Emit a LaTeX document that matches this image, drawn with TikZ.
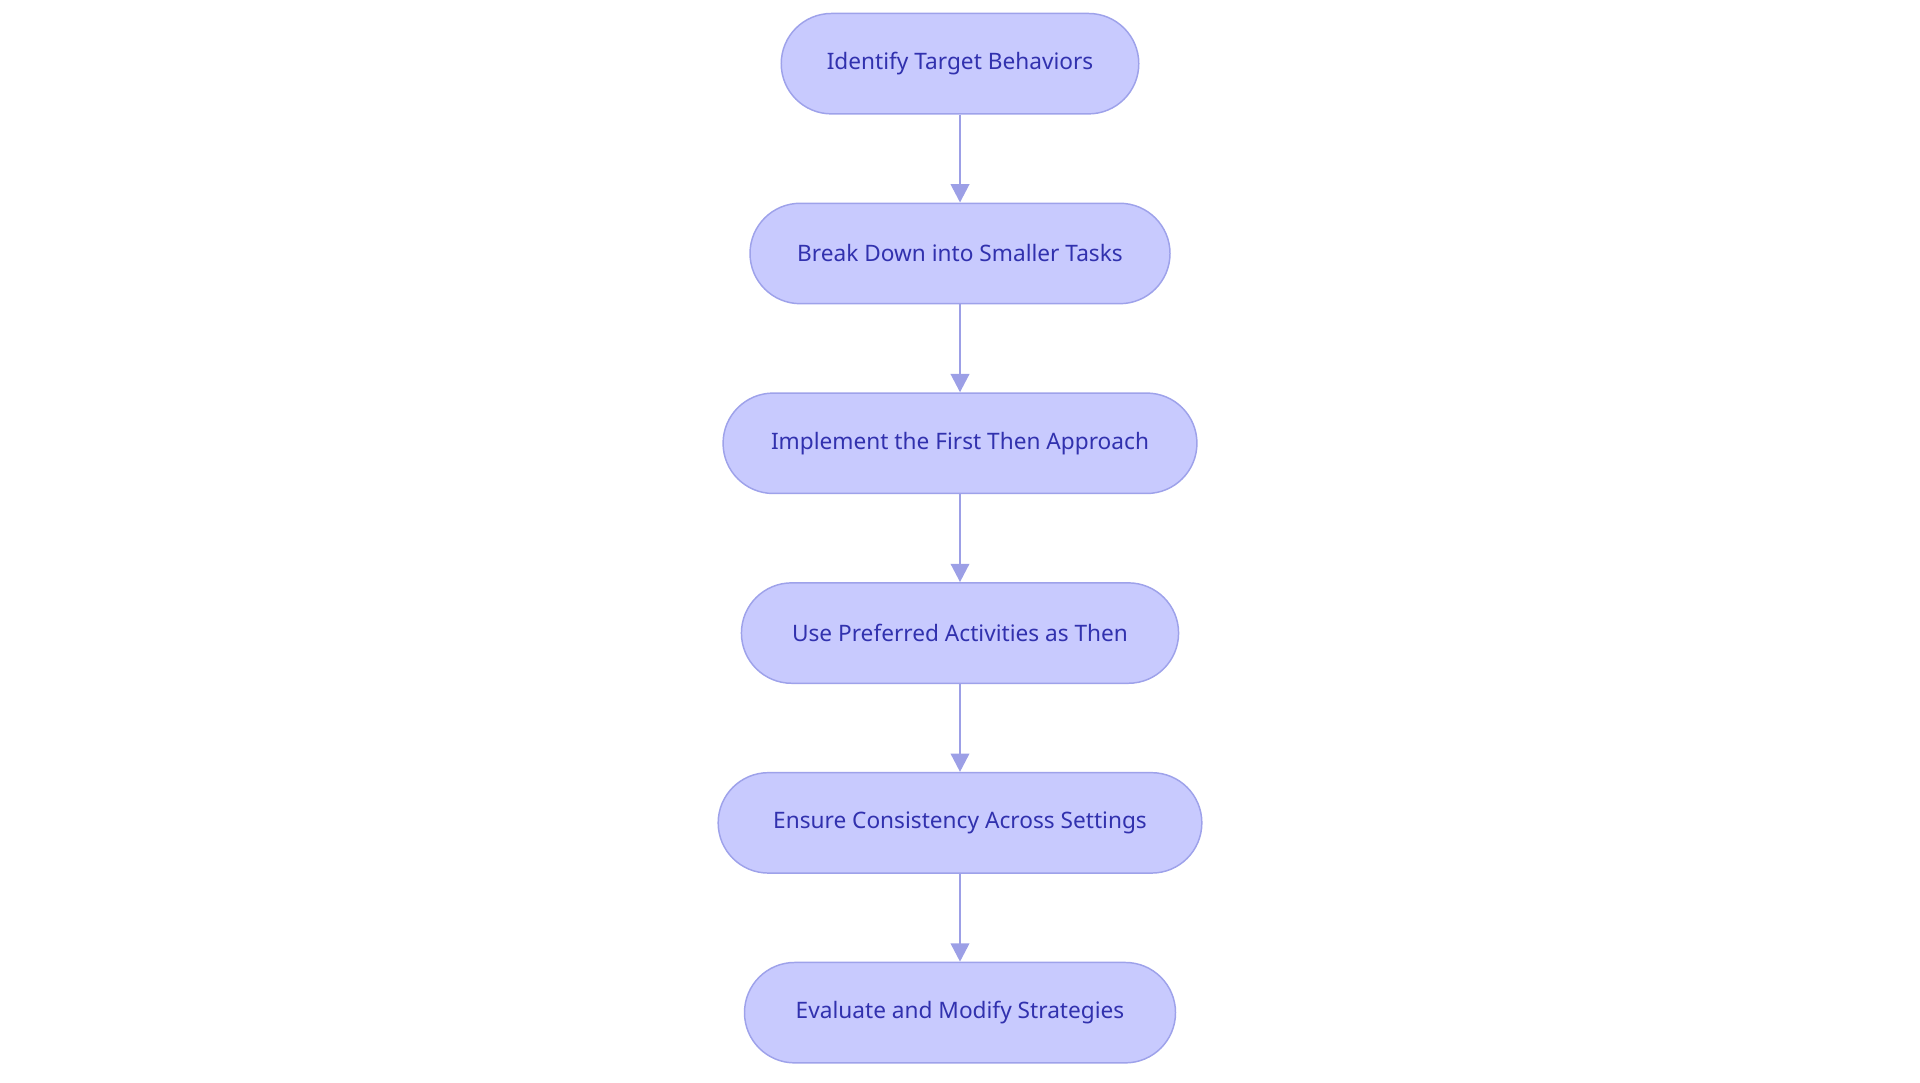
\documentclass[tikz,border=0pt]{standalone}
\usepackage{fontspec}
\setmainfont{Noto Sans}
\usetikzlibrary{arrows.meta}
\definecolor{nfill}{HTML}{C8CAFE}
\definecolor{ndraw}{HTML}{9EA2EA}
\definecolor{ntext}{HTML}{3131AE}
\definecolor{arr}{HTML}{9C9FE6}
\begin{document}
\begin{tikzpicture}[x=1pt,y=-1pt,
  box/.style={draw=ndraw,fill=nfill,line width=1.2pt,rounded corners=41pt,minimum height=82pt,text=ntext,font=\fontsize{18.5}{22}\selectfont,inner sep=0pt},
  link/.style={draw=arr,line width=2.2pt,-{Triangle[length=15pt,width=15pt]}}]
\useasboundingbox (0,0) rectangle (1568,884);
\node[box,minimum width=292pt] (a) at (784,52) {Identify Target Behaviors};
\node[box,minimum width=343pt] (b) at (784,207) {Break Down into Smaller Tasks};
\node[box,minimum width=387pt] (c) at (784,362) {Implement the First Then Approach};
\node[box,minimum width=357pt] (d) at (784,517) {Use Preferred Activities as Then};
\node[box,minimum width=395pt] (e) at (784,672) {Ensure Consistency Across Settings};
\node[box,minimum width=352pt] (f) at (784,827) {Evaluate and Modify Strategies};
\draw[link] (a) -- (b);
\draw[link] (b) -- (c);
\draw[link] (c) -- (d);
\draw[link] (d) -- (e);
\draw[link] (e) -- (f);
\end{tikzpicture}
\end{document}
